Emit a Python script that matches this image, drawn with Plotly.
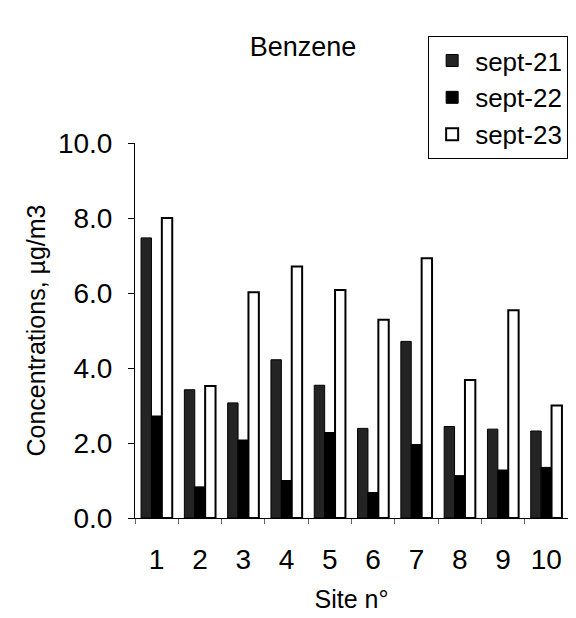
import plotly.graph_objects as go

sites = ["1", "2", "3", "4", "5", "6", "7", "8", "9", "10"]
sept21 = [7.47, 3.42, 3.07, 4.22, 3.54, 2.39, 4.71, 2.44, 2.37, 2.32]
sept22 = [2.72, 0.83, 2.08, 1.00, 2.28, 0.68, 1.96, 1.13, 1.28, 1.35]
sept23 = [8.00, 3.52, 6.02, 6.71, 6.08, 5.29, 6.93, 3.68, 5.54, 3.00]

font_family = "Liberation Sans, Arial, sans-serif"

fig = go.Figure()
fig.add_trace(go.Bar(x=sites, y=sept21, name="sept-21",
                     marker=dict(color="#242424", line=dict(color="black", width=1))))
fig.add_trace(go.Bar(x=sites, y=sept22, name="sept-22",
                     marker=dict(color="#000000", line=dict(color="black", width=1))))
fig.add_trace(go.Bar(x=sites, y=sept23, name="sept-23",
                     marker=dict(color="white", line=dict(color="black", width=2))))

# page body keeps its 8px default margin, so the figure is 8px smaller
fig.update_layout(
    width=568, height=610,
    margin=dict(l=127, r=8, t=135, b=100),
    paper_bgcolor="white", plot_bgcolor="white",
    font=dict(family=font_family, size=28, color="black"),
    barmode="group", bargap=0.28, bargroupgap=0,
    title=dict(text="Benzene", xref="paper", x=0.388, xanchor="center",
               yref="container", y=0.936, yanchor="middle",
               font=dict(size=27)),
    legend=dict(x=0.677, y=1.285, xanchor="left", yanchor="top",
                bordercolor="black", borderwidth=1, bgcolor="white",
                font=dict(size=26), itemwidth=36, traceorder="normal"),
    showlegend=True,
)

fig.update_xaxes(
    showline=True, linecolor="black", linewidth=1,
    ticks="outside", tickson="boundaries", ticklen=5, tickcolor="#666",
    ticklabelstandoff=16,
    title=dict(text="Site n°", standoff=16, font=dict(size=25)),
    showgrid=False,
)
fig.update_yaxes(
    range=[0, 10], dtick=2, tickformat=".1f",
    showline=True, linecolor="black", linewidth=1,
    ticks="outside", ticklen=6, tickcolor="black",
    ticklabelstandoff=10,
    title=dict(text="Concentrations, µg/m3", standoff=5, font=dict(size=25)),
    showgrid=False, zeroline=False,
)

fig.write_html("out.html")
